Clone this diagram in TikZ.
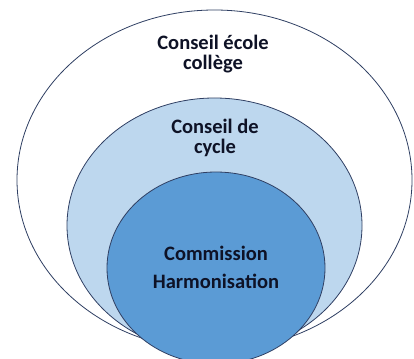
\documentclass[tikz,border=0pt]{standalone}
\usepackage{fontspec}
\setmainfont{Carlito}
\usetikzlibrary{shapes.geometric}
\definecolor{edgeblue}{HTML}{2F3F63}
\definecolor{lightblue}{HTML}{BDD7EE}
\definecolor{midblue}{HTML}{5B9BD5}
\definecolor{txt}{HTML}{0E1226}
\tikzset{
  ring/.style={ellipse, draw=edgeblue, line width=0.8pt, inner sep=0pt},
  lbl/.style={font=\bfseries\fontsize{20.5}{20}\selectfont, text=txt, align=center, inner sep=0pt}
}
\begin{document}
\begin{tikzpicture}[x=1pt,y=-1pt]
\useasboundingbox (0,0) rectangle (414,358);
\clip (0,0) rectangle (414,358);
\fill[white] (0,0) rectangle (414,358);
\node[ring, fill=white, minimum width=395pt, minimum height=340pt] (outer) at (214.5,180) {};
\node[ring, fill=lightblue, minimum width=295pt, minimum height=255pt] (middle) at (214.5,225.5) {};
\node[ring, fill=midblue, minimum width=218pt, minimum height=192pt] (inner) at (216,268) {};
\node[lbl] (t1) at (213,54) {Conseil école\\collège};
\node[lbl] (t2) at (215,138) {Conseil de\\cycle};
\node[lbl, font=\bfseries\fontsize{20.5}{28}\selectfont] (t3) at (216,267) {Commission\\Harmonisation};
\end{tikzpicture}
\end{document}
